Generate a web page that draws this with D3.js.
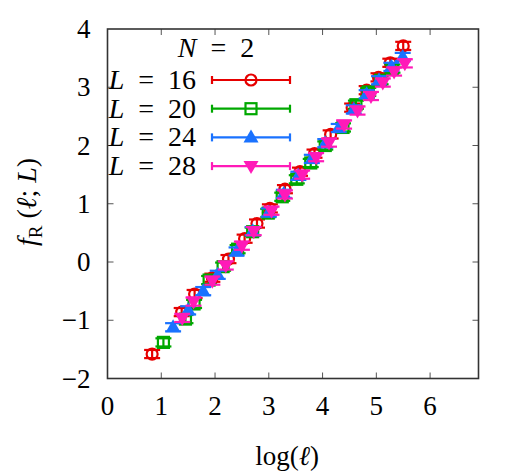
<!DOCTYPE html>
<html>
<head>
<meta charset="utf-8">
<script src="https://cdn.jsdelivr.net/npm/d3@7"></script>
<style>
  body { margin: 0; background: #fff; }
  text { font-family: "Liberation Serif", "DejaVu Serif", serif; fill: #000; }
</style>
</head>
<body>
<div id="chart"></div>
<script>

// data: x = log(l), y = f_R(l; L)
var seriesNames = ["16", "20", "24", "28"];

var xL16 = [0.83, 1.38, 1.62, 1.95, 2.25, 2.55, 2.78, 3.02, 3.30, 3.58, 3.85, 4.15, 4.55, 4.82, 5.04, 5.26, 5.50];
var yL16 = [-1.58, -0.86, -0.55, -0.27, 0.05, 0.40, 0.66, 0.92, 1.25, 1.55, 1.86, 2.19, 2.65, 2.95, 3.17, 3.42, 3.71];

var xL20 = [1.04, 1.45, 1.61, 1.89, 2.15, 2.42, 2.70, 2.99, 3.25, 3.52, 3.78, 4.05, 4.38, 4.62, 4.85, 5.08, 5.30];
var yL20 = [-1.38, -0.98, -0.72, -0.31, -0.08, 0.22, 0.52, 0.84, 1.12, 1.42, 1.70, 2.00, 2.31, 2.70, 2.92, 3.12, 3.32];

var xL24 = [1.22, 1.50, 1.78, 2.05, 2.40, 2.70, 3.00, 3.28, 3.55, 3.80, 4.05, 4.30, 4.58, 4.82, 5.05, 5.28, 5.49];
var yL24 = [-1.12, -0.83, -0.50, -0.22, 0.18, 0.53, 0.85, 1.17, 1.48, 1.77, 2.04, 2.30, 2.62, 2.88, 3.12, 3.35, 3.52];

var xL28 = [1.39, 1.60, 1.95, 2.20, 2.50, 2.72, 3.05, 3.30, 3.62, 3.88, 4.12, 4.40, 4.65, 4.90, 5.12, 5.33, 5.53];
var yL28 = [-0.96, -0.68, -0.32, -0.06, 0.28, 0.53, 0.88, 1.16, 1.50, 1.80, 2.05, 2.36, 2.60, 2.85, 3.08, 3.27, 3.41];

var errL = [0.07, 0.07, 0.07, 0.07];

var xTicks = [0, 1, 2, 3, 4, 5, 6];
var yTicks = [-2, -1, 0, 1, 2, 3, 4];

var colors = ["#e60000", "#00a800", "#1a72ff", "#ff1ab8"];
var shapes = ["circle", "square", "up", "down"];

var width = 532, height = 473;
var margin = { top: 29, bottom: 94.5, left: 107.5, right: 53.5 };

var svg = d3.select("#chart").append("svg")
    .attr("width", width)
    .attr("height", height);

var x = d3.scaleLinear()
    .domain([0, 6.9])
    .range([margin.left, width - margin.right]);

var y = d3.scaleLinear()
    .domain([-2, 4])
    .range([height - margin.bottom, margin.top]);

var x0 = x.range()[0], x1 = x.range()[1];
var y0 = y.range()[0], y1 = y.range()[1];
var tickLen = 6;

// ticks (mirrored, pointing inward)
var axes = svg.append("g").attr("stroke", "#555").attr("stroke-width", 1);

axes.selectAll("line.xb").data(xTicks.slice(1)).enter().append("line")
    .attr("x1", x).attr("x2", x)
    .attr("y1", y0).attr("y2", y0 - tickLen);
axes.selectAll("line.xt").data(xTicks.slice(1)).enter().append("line")
    .attr("x1", x).attr("x2", x)
    .attr("y1", y1).attr("y2", y1 + tickLen);
axes.selectAll("line.yl").data(yTicks.slice(1, -1)).enter().append("line")
    .attr("x1", x0).attr("x2", x0 + tickLen)
    .attr("y1", y).attr("y2", y);
axes.selectAll("line.yr").data(yTicks.slice(1, -1)).enter().append("line")
    .attr("x1", x1).attr("x2", x1 - tickLen)
    .attr("y1", y).attr("y2", y);

svg.append("rect")
    .attr("x", x0).attr("y", y1)
    .attr("width", x1 - x0).attr("height", y0 - y1)
    .attr("fill", "none")
    .attr("stroke", "#333")
    .attr("stroke-width", 1.6);

// tick labels
svg.selectAll("text.xrule").data(xTicks).enter().append("text")
    .attr("class", "xrule")
    .attr("x", x)
    .attr("y", y0 + 36)
    .attr("text-anchor", "middle")
    .attr("font-size", "27px")
    .text(function (d) { return d; });

svg.selectAll("text.yrule").data(yTicks).enter().append("text")
    .attr("class", "yrule")
    .attr("x", x0 - 17)
    .attr("y", y)
    .attr("dy", 9)
    .attr("text-anchor", "end")
    .attr("font-size", "27px")
    .text(function (d) { return d3.format("d")(d); });

// axis titles
var xt = svg.append("text")
    .attr("x", 287)
    .attr("y", 465)
    .attr("text-anchor", "middle")
    .attr("font-size", "27px");
xt.append("tspan").text("log(");
xt.append("tspan").attr("font-style", "italic").text("ℓ");
xt.append("tspan").text(")");

var yt = svg.append("text")
    .attr("transform", "translate(36,202) rotate(-90)")
    .attr("text-anchor", "middle")
    .attr("font-size", "28px");
yt.append("tspan").attr("font-style", "italic").text("f");
yt.append("tspan").attr("font-size", "19px").attr("dy", 6).text("R");
yt.append("tspan").attr("dy", -6).text(" (");
yt.append("tspan").attr("font-style", "italic").text("ℓ");
yt.append("tspan").text("; ");
yt.append("tspan").attr("font-style", "italic").text("L");
yt.append("tspan").text(")");

function drawMarker(g, shape, color, cx, cy) {
    if (shape === "circle") {
        g.append("circle").attr("cx", cx).attr("cy", cy).attr("r", 5.5)
            .attr("fill", "none").attr("stroke", color).attr("stroke-width", 2.2);
    } else if (shape === "square") {
        g.append("rect").attr("x", cx - 5.5).attr("y", cy - 5.5)
            .attr("width", 11).attr("height", 11)
            .attr("fill", "none").attr("stroke", color).attr("stroke-width", 2.2);
    } else if (shape === "up") {
        g.append("path")
            .attr("d", "M" + cx + "," + (cy - 8) + "L" + (cx + 7.5) + "," + (cy + 5) + "L" + (cx - 7.5) + "," + (cy + 5) + "Z")
            .attr("fill", color);
    } else {
        g.append("path")
            .attr("d", "M" + cx + "," + (cy + 8) + "L" + (cx + 7.5) + "," + (cy - 5) + "L" + (cx - 7.5) + "," + (cy - 5) + "Z")
            .attr("fill", color);
    }
}

var allX = [xL16, xL20, xL24, xL28];
var allY = [yL16, yL20, yL24, yL28];

var pointsLayer = svg.append("g");

allX.forEach(function (xs, s) {
    var color = colors[s];
    var g = pointsLayer.append("g");
    xs.forEach(function (xv, i) {
        var cx = x(xv), cy = y(allY[s][i]);
        var top = y(allY[s][i] + errL[s]), bot = y(allY[s][i] - errL[s]);
        g.append("line").attr("x1", cx).attr("x2", cx).attr("y1", top).attr("y2", bot)
            .attr("stroke", color).attr("stroke-width", 2.2);
        g.append("line").attr("x1", cx - 8).attr("x2", cx + 8).attr("y1", top).attr("y2", top)
            .attr("stroke", color).attr("stroke-width", 2.2);
        g.append("line").attr("x1", cx - 8).attr("x2", cx + 8).attr("y1", bot).attr("y2", bot)
            .attr("stroke", color).attr("stroke-width", 2.2);
        drawMarker(g, shapes[s], color, cx, cy);
    });
});

// legend
var legend = svg.append("g");

var nt = legend.append("text")
    .attr("x", 216)
    .attr("y", 57)
    .attr("text-anchor", "middle")
    .attr("font-size", "28px");
nt.append("tspan").attr("font-style", "italic").text("N");
nt.append("tspan").text("\u2002=\u20022");

seriesNames.forEach(function (name, i) {
    var cy = 80 + i * 28.7;
    var color = colors[i];
    var t = legend.append("text")
        .attr("x", 196)
        .attr("y", cy + 9)
        .attr("text-anchor", "end")
        .attr("font-size", "28px");
    t.append("tspan").attr("font-style", "italic").text("L");
    t.append("tspan").text("\u2002=\u2002" + name);

    legend.append("line").attr("x1", 212).attr("x2", 290).attr("y1", cy).attr("y2", cy)
        .attr("stroke", color).attr("stroke-width", 2.2);
    legend.append("line").attr("x1", 212).attr("x2", 212).attr("y1", cy - 4).attr("y2", cy + 4)
        .attr("stroke", color).attr("stroke-width", 2.2);
    legend.append("line").attr("x1", 290).attr("x2", 290).attr("y1", cy - 4).attr("y2", cy + 4)
        .attr("stroke", color).attr("stroke-width", 2.2);
    drawMarker(legend, shapes[i], color, 251, cy);
});

</script>
</body>
</html>
